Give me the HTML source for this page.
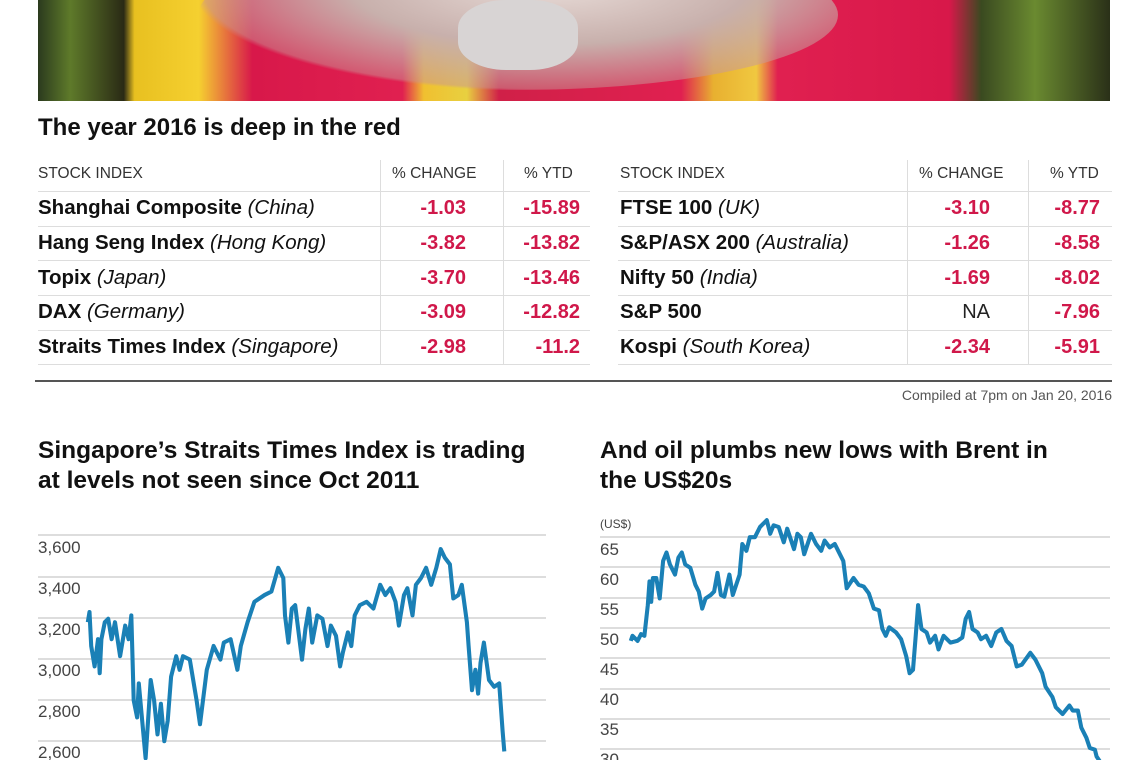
<!DOCTYPE html>
<html><head><meta charset="utf-8"><style>
body{margin:0;width:1140px;height:760px;overflow:hidden;background:#fff;font-family:"Liberation Sans",sans-serif;color:#111;position:relative}
.a{position:absolute;white-space:nowrap}
.h{font-size:15.5px;color:#333}
.r{font-size:20.5px;font-weight:bold}
.r i{font-weight:normal}
.n{font-size:20px;font-weight:bold;color:#d0184a;text-align:right}
.t{font-size:24.5px;font-weight:bold}
</style></head><body>
<div class="a" style="left:38px;top:0;width:1072px;height:101px;overflow:hidden;background:linear-gradient(90deg,#2b3a1e 0,#5e7a2a 3%,#2a2a15 8%,#e8c020 9%,#f5d030 15%,#d8184a 20%,#e02050 34%,#f0c030 36%,#e8d040 40%,#d02048 43%,#e02050 60%,#e8b030 63%,#f0c840 67%,#e02050 69%,#d8184a 85%,#3a4a20 88%,#6a8a30 93%,#2a3018 100%)">
<div class="a" style="left:160px;top:-60px;width:640px;height:150px;border-radius:50%;background:radial-gradient(ellipse at 55% 30%,#e8dcd8 0,#c8b0ac 40%,rgba(200,150,150,0.5) 70%,rgba(0,0,0,0) 72%)"></div>
<div class="a" style="left:420px;top:0;width:120px;height:70px;border-radius:40%;background:#d8d4d4"></div>
</div>
<div class="a t" style="left:38px;top:114px;font-size:24px">The year 2016 is deep in the red</div>

<div class="a h" style="left:38px;top:165px">STOCK INDEX</div>
<div class="a h" style="left:392px;top:165px">% CHANGE</div>
<div class="a h" style="left:524px;top:165px">% YTD</div>
<div class="a" style="left:380px;top:160px;width:1px;height:205px;background:#ddd"></div>
<div class="a" style="left:503px;top:160px;width:1px;height:205px;background:#ddd"></div>
<div class="a h" style="left:620px;top:165px">STOCK INDEX</div>
<div class="a h" style="left:919px;top:165px">% CHANGE</div>
<div class="a h" style="left:1050px;top:165px">% YTD</div>
<div class="a" style="left:907px;top:160px;width:1px;height:205px;background:#ddd"></div>
<div class="a" style="left:1028px;top:160px;width:1px;height:205px;background:#ddd"></div>

<div class="a" style="left:38px;top:191px;width:552px;height:1px;background:#ddd"></div>
<div class="a" style="left:38px;top:226px;width:552px;height:1px;background:#ddd"></div>
<div class="a" style="left:38px;top:260px;width:552px;height:1px;background:#ddd"></div>
<div class="a" style="left:38px;top:295px;width:552px;height:1px;background:#ddd"></div>
<div class="a" style="left:38px;top:330px;width:552px;height:1px;background:#ddd"></div>
<div class="a" style="left:38px;top:364px;width:552px;height:1px;background:#ddd"></div>
<div class="a" style="left:618px;top:191px;width:494px;height:1px;background:#ddd"></div>
<div class="a" style="left:618px;top:226px;width:494px;height:1px;background:#ddd"></div>
<div class="a" style="left:618px;top:260px;width:494px;height:1px;background:#ddd"></div>
<div class="a" style="left:618px;top:295px;width:494px;height:1px;background:#ddd"></div>
<div class="a" style="left:618px;top:330px;width:494px;height:1px;background:#ddd"></div>
<div class="a" style="left:618px;top:364px;width:494px;height:1px;background:#ddd"></div>

<div class="a r" style="left:38px;top:196px">Shanghai Composite <i>(China)</i></div>
<div class="a r" style="left:38px;top:231px">Hang Seng Index <i>(Hong Kong)</i></div>
<div class="a r" style="left:38px;top:266px">Topix <i>(Japan)</i></div>
<div class="a r" style="left:38px;top:300px">DAX <i>(Germany)</i></div>
<div class="a r" style="left:38px;top:335px">Straits Times Index <i>(Singapore)</i></div>
<div class="a n" style="left:386px;width:80px;top:197px">-1.03</div>
<div class="a n" style="left:386px;width:80px;top:232px">-3.82</div>
<div class="a n" style="left:386px;width:80px;top:267px">-3.70</div>
<div class="a n" style="left:386px;width:80px;top:301px">-3.09</div>
<div class="a n" style="left:386px;width:80px;top:336px">-2.98</div>
<div class="a n" style="left:500px;width:80px;top:197px">-15.89</div>
<div class="a n" style="left:500px;width:80px;top:232px">-13.82</div>
<div class="a n" style="left:500px;width:80px;top:267px">-13.46</div>
<div class="a n" style="left:500px;width:80px;top:301px">-12.82</div>
<div class="a n" style="left:500px;width:80px;top:336px">-11.2</div>

<div class="a r" style="left:620px;top:196px">FTSE 100 <i>(UK)</i></div>
<div class="a r" style="left:620px;top:231px">S&amp;P/ASX 200 <i>(Australia)</i></div>
<div class="a r" style="left:620px;top:266px">Nifty 50 <i>(India)</i></div>
<div class="a r" style="left:620px;top:300px">S&amp;P 500</div>
<div class="a r" style="left:620px;top:335px">Kospi <i>(South Korea)</i></div>
<div class="a n" style="left:910px;width:80px;top:197px">-3.10</div>
<div class="a n" style="left:910px;width:80px;top:232px">-1.26</div>
<div class="a n" style="left:910px;width:80px;top:267px">-1.69</div>
<div class="a n" style="left:910px;width:80px;top:301px;color:#222;font-weight:normal">NA</div>
<div class="a n" style="left:910px;width:80px;top:336px">-2.34</div>
<div class="a n" style="left:1020px;width:80px;top:197px">-8.77</div>
<div class="a n" style="left:1020px;width:80px;top:232px">-8.58</div>
<div class="a n" style="left:1020px;width:80px;top:267px">-8.02</div>
<div class="a n" style="left:1020px;width:80px;top:301px">-7.96</div>
<div class="a n" style="left:1020px;width:80px;top:336px">-5.91</div>

<div class="a" style="left:35px;top:380px;width:1077px;height:2px;background:#555"></div>
<div class="a" style="left:800px;width:312px;top:387px;font-size:14px;color:#555;text-align:right">Compiled at 7pm on Jan 20, 2016</div>

<div class="a t" style="left:38px;top:436px;line-height:30px">Singapore’s Straits Times Index is trading<br>at levels not seen since Oct 2011</div>
<div class="a t" style="left:600px;top:436px;line-height:30px">And oil plumbs new lows with Brent in<br>the US$20s</div>

<svg class="a" style="left:0;top:0" width="1140" height="760">
<g stroke="#ddd" stroke-width="2">
<line x1="38" x2="546" y1="535" y2="535"/><line x1="38" x2="546" y1="577" y2="577"/><line x1="38" x2="546" y1="618" y2="618"/><line x1="38" x2="546" y1="659" y2="659"/><line x1="38" x2="546" y1="700" y2="700"/><line x1="38" x2="546" y1="741" y2="741"/>
<line x1="600" x2="1110" y1="537" y2="537"/><line x1="600" x2="1110" y1="567" y2="567"/><line x1="600" x2="1110" y1="598" y2="598"/><line x1="600" x2="1110" y1="628" y2="628"/><line x1="600" x2="1110" y1="658" y2="658"/><line x1="600" x2="1110" y1="689" y2="689"/><line x1="600" x2="1110" y1="719" y2="719"/><line x1="600" x2="1110" y1="749" y2="749"/>
</g>
<g font-family="Liberation Sans" font-size="17" fill="#444">
<text x="38" y="553">3,600</text><text x="38" y="594">3,400</text><text x="38" y="635">3,200</text><text x="38" y="676">3,000</text><text x="38" y="717">2,800</text><text x="38" y="758">2,600</text>
<text x="600" y="528" font-size="12">(US$)</text>
<text x="600" y="555">65</text><text x="600" y="585">60</text><text x="600" y="615">55</text><text x="600" y="645">50</text><text x="600" y="675">45</text><text x="600" y="705">40</text><text x="600" y="735">35</text><text x="600" y="765">30</text>
</g>
<g transform="translate(30,510) scale(0.34)" fill="none" stroke="#1a80b6" stroke-width="12" stroke-linejoin="round">
<polyline points="170,330 175,300 180,400 190,460 200,380 205,480 210,380 220,330 230,320 240,380 250,330 265,430 280,340 290,380 298,310 305,560 315,610 320,510 330,620 340,730 355,500 365,560 375,660 385,570 395,680 405,620 415,490 430,430 440,470 450,430 470,440 490,560 500,630 520,470 540,400 560,440 570,390 590,380 610,470 620,400 640,330 660,270 690,250 710,240 730,170 745,200 750,310 760,390 770,290 780,280 800,440 810,350 820,290 830,390 845,310 860,320 875,400 885,340 900,370 912,460 920,420 935,360 945,400 955,310 970,280 990,270 1010,290 1030,220 1045,250 1060,230 1075,270 1085,340 1100,250 1110,230 1125,310 1135,220 1150,200 1165,170 1180,220 1195,170 1208,115 1220,140 1235,160 1245,260 1260,250 1270,220 1285,330 1290,400 1300,530 1310,470 1318,540 1325,450 1335,390 1350,500 1365,520 1380,510 1390,650 1395,710"/>
</g>
<g transform="translate(590,510) scale(0.34)" fill="none" stroke="#1a80b6" stroke-width="12" stroke-linejoin="round">
<polyline points="120,385 125,370 140,385 150,365 160,370 170,280 175,210 180,270 185,200 195,200 205,260 215,150 225,125 235,160 250,190 260,140 270,125 280,160 295,170 310,220 320,240 330,290 340,260 355,250 365,240 375,185 385,250 395,255 410,190 420,250 440,190 448,100 460,120 470,80 485,80 500,50 510,40 520,30 530,70 540,45 555,50 570,95 580,55 600,115 610,70 620,80 630,130 650,70 665,100 680,120 690,90 705,110 720,100 730,120 745,150 755,230 775,200 790,220 805,225 820,245 835,290 850,295 860,350 870,370 880,345 900,360 915,380 930,430 940,480 950,470 958,370 965,280 975,350 990,360 1000,390 1015,370 1025,410 1040,370 1060,390 1080,385 1095,375 1105,320 1115,300 1125,350 1140,360 1150,380 1165,370 1180,400 1195,360 1210,350 1225,385 1240,400 1255,460 1270,455 1295,420 1310,440 1330,480 1340,520 1360,550 1370,580 1390,600 1410,575 1420,590 1435,590 1445,640 1460,670 1470,700 1485,705 1490,725 1500,740"/>
</g>
</svg>
</body></html>
